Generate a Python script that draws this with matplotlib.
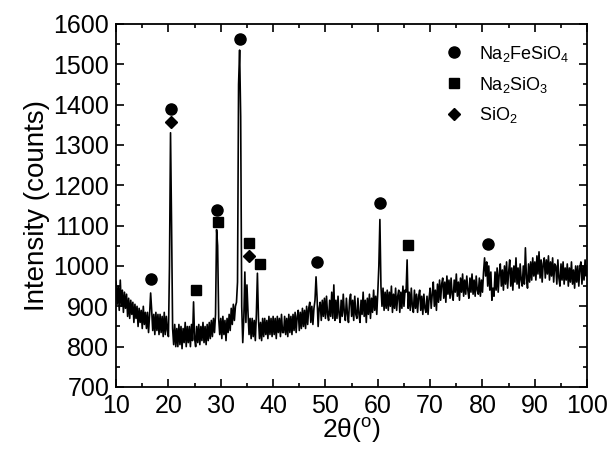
import numpy as np
import matplotlib
matplotlib.use("Agg")
import matplotlib.pyplot as plt
from matplotlib.ticker import MultipleLocator

plt.rcParams['font.family'] = ['Liberation Sans', 'DejaVu Sans']
plt.rcParams['mathtext.fontset'] = 'custom'
plt.rcParams['mathtext.rm'] = 'Liberation Sans'

# ---- XRD scan, 10..100 deg, 0.2 deg step --------------------------
two_theta = np.linspace(10, 100, 451)
counts = [
    960, 905, 950, 890, 965, 900, 940, 885, 935, 895,      # 10
    930, 875, 920, 870, 915, 880, 910, 860, 905, 870,      # 12
    900, 850, 895, 860, 890, 845, 900, 855, 885, 845,      # 14
    885, 835, 880, 933, 890, 840, 880, 830, 885, 840,      # 16
    880, 830, 880, 835, 875, 825, 885, 830, 875, 840,      # 18
    825, 1000, 1330, 1100, 845, 805, 855, 800, 845, 800,   # 20
    855, 805, 850, 795, 845, 810, 860, 800, 850, 810,      # 22
    850, 800, 855, 815, 911, 820, 800, 850, 810, 855,      # 24
    805, 850, 815, 860, 810, 850, 805, 855, 815, 860,      # 26
    820, 865, 825, 870, 835, 880, 1090, 1050, 870, 830,    # 28
    870, 820, 875, 830, 865, 815, 870, 835, 880, 840,      # 30
    895, 855, 905, 865, 900, 910, 960, 1450, 1535, 1370,   # 32
    900, 810, 870, 985, 860, 953, 885, 830, 870, 820,      # 34
    870, 825, 865, 815, 880, 982, 870, 820, 860, 815,      # 36
    870, 825, 870, 830, 865, 820, 875, 830, 870, 825,      # 38
    875, 830, 870, 820, 875, 835, 870, 825, 880, 835,      # 40
    835, 875, 830, 870, 825, 880, 835, 875, 830, 880,      # 42
    840, 885, 835, 875, 890, 840, 885, 845, 895, 850,      # 44
    890, 845, 900, 855, 895, 910, 860, 900, 855, 895,      # 46
    915, 973, 920, 850, 895, 910, 865, 915, 875, 920,      # 48
    870, 925, 880, 865, 915, 875, 935, 870, 953, 865,      # 50
    915, 870, 925, 880, 860, 915, 875, 930, 885, 865,      # 52
    920, 880, 860, 915, 930, 875, 915, 865, 925, 880,      # 54
    870, 920, 880, 860, 915, 880, 935, 875, 915, 860,      # 56
    920, 880, 930, 870, 920, 885, 940, 890, 925, 880,      # 58
    935, 1000, 1115, 950, 900, 945, 890, 935, 895, 940,    # 60
    890, 935, 900, 950, 885, 930, 895, 945, 890, 925,      # 62
    940, 885, 935, 895, 950, 900, 940, 935, 1015, 895,     # 64
    935, 890, 945, 900, 885, 940, 895, 930, 885, 925,      # 66
    940, 890, 925, 880, 930, 895, 885, 925, 880, 920,      # 68
    945, 895, 930, 960, 900, 940, 890, 955, 910, 965,      # 70
    915, 955, 970, 920, 960, 910, 975, 930, 965, 920,      # 72
    970, 930, 915, 965, 935, 980, 925, 960, 915, 970,      # 74
    935, 980, 925, 965, 930, 975, 940, 920, 970, 935,      # 76
    980, 930, 965, 925, 975, 940, 930, 970, 925, 965,      # 78
    935, 985, 1020, 975, 1010, 950, 1000, 940, 985, 915,   # 80
    945, 925, 985, 940, 995, 935, 980, 1005, 950, 990,     # 82
    940, 1000, 955, 1010, 945, 985, 1015, 950, 995, 940,   # 84
    1000, 960, 1020, 955, 995, 945, 1005, 965, 950, 1000,  # 86
    955, 1045, 970, 945, 1005, 960, 1010, 965, 1020, 975,  # 88
    1010, 965, 1025, 980, 1035, 970, 1015, 960, 1005, 1020, # 90
    970, 1015, 980, 1025, 965, 1010, 975, 1020, 960, 1005, # 92
    1000, 955, 1015, 970, 950, 1005, 965, 1010, 955, 995,  # 94
    965, 1005, 950, 995, 960, 1010, 955, 990, 945, 1000,   # 96
    960, 1000, 950, 995, 1010, 955, 1000, 965, 1015, 975,  # 98
    995,
]

# ---- phase markers -------------------------------------------------
fesio4_x = [16.7, 20.5, 29.3, 33.7, 48.3, 60.5, 81.0]
fesio4_y = [968, 1389, 1139, 1563, 1010, 1157, 1055]
sio3_x = [25.3, 29.4, 35.3, 37.5, 65.8]
sio3_y = [940, 1108, 1057, 1005, 1053]
sio2_x = [20.5, 35.3]
sio2_y = [1357, 1025]

fig = plt.figure(figsize=(6.11, 4.5), dpi=100)
ax = fig.add_axes([0.190, 0.140, 0.771, 0.807])

ax.plot(two_theta, counts, color='black', lw=1.2)
ax.plot(fesio4_x, fesio4_y, 'o', color='black', ms=8, ls='none',
        label='Na$_\\mathregular{2}$FeSiO$_\\mathregular{4}$')
ax.plot(sio3_x, sio3_y, 's', color='black', ms=6.5, ls='none',
        label='Na$_\\mathregular{2}$SiO$_\\mathregular{3}$')
ax.plot(sio2_x, sio2_y, 'D', color='black', ms=6.2, ls='none',
        label='SiO$_\\mathregular{2}$')

ax.set_xlim(10, 100)
ax.set_ylim(700, 1600)
ax.xaxis.set_major_locator(MultipleLocator(10))
ax.xaxis.set_minor_locator(MultipleLocator(5))
ax.yaxis.set_major_locator(MultipleLocator(100))
ax.yaxis.set_minor_locator(MultipleLocator(50))
ax.tick_params(which='both', direction='in', top=True, right=True, width=1.2)
ax.tick_params(which='major', length=6, labelsize=18)
ax.tick_params(which='minor', length=3)
ax.tick_params(axis='x', pad=5)
ax.tick_params(axis='y', pad=5)
for s in ax.spines.values():
    s.set_linewidth(1.3)

ax.set_xlabel('2\u03b8($^\\mathregular{o}$)', fontsize=19, labelpad=-2)
ax.set_ylabel('Intensity (counts)', fontsize=20, labelpad=2)

ax.legend(loc='upper left', bbox_to_anchor=(0.66, 0.99), frameon=False,
          fontsize=13, handletextpad=0.8, labelspacing=0.6,
          handlelength=1.2)

fig.savefig('out.png', dpi=100)
